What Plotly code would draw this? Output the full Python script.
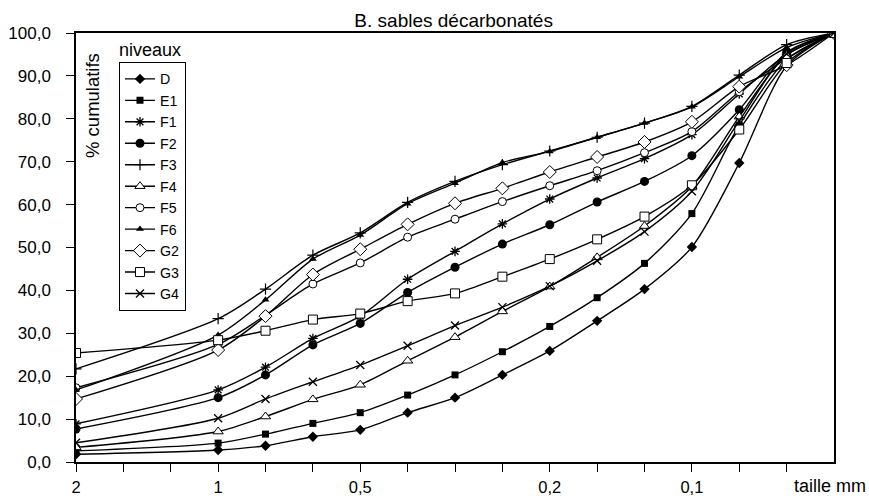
import plotly.graph_objects as go

# Sieve series (category positions along the x axis)
sieves = [2, 1.6, 1.25, 1, 0.8, 0.63, 0.5, 0.4, 0.315, 0.25, 0.2, 0.16, 0.125, 0.1, 0.08, 0.063, 0.05]
measured = [2, 1, 0.8, 0.63, 0.5, 0.4, 0.315, 0.25, 0.2, 0.16, 0.125, 0.1, 0.08, 0.063, 0.05]
tick_labels = {2: "2", 1: "1", 0.5: "0,5", 0.2: "0,2", 0.1: "0,1"}

D  = [1.8, 2.8, 3.8, 5.9, 7.5, 11.5, 15.0, 20.3, 25.9, 32.9, 40.3, 50.1, 69.7, 92.3, 100]
E1 = [2.6, 4.4, 6.5, 9.0, 11.5, 15.6, 20.3, 25.7, 31.6, 38.3, 46.3, 57.9, 78.5, 93.8, 100]
F1 = [8.9, 16.8, 22.1, 28.8, 34.0, 42.6, 49.1, 55.5, 61.3, 66.2, 70.7, 76.3, 85.8, 95.0, 100]
F2 = [7.7, 15.0, 20.3, 27.3, 32.3, 39.5, 45.4, 50.8, 55.3, 60.6, 65.4, 71.4, 82.1, 95.5, 100]
F3 = [21.7, 33.4, 40.3, 48.2, 53.4, 60.5, 65.4, 69.3, 72.5, 75.7, 79.0, 82.9, 90.2, 97.3, 100]
F4 = [3.4, 7.1, 10.6, 14.6, 18.0, 23.6, 29.1, 35.1, 40.9, 47.7, 55.0, 64.2, 80.5, 94.8, 100]
F5 = [17.3, 27.4, 34.2, 41.5, 46.4, 52.4, 56.6, 60.7, 64.4, 67.9, 72.1, 77.0, 86.3, 94.0, 100]
F6 = [16.8, 29.6, 37.8, 47.3, 52.9, 60.2, 65.0, 69.8, 72.4, 75.7, 79.0, 82.8, 89.8, 96.6, 100]
G2 = [14.7, 26.1, 34.0, 43.7, 49.6, 55.4, 60.3, 63.8, 67.6, 71.1, 74.6, 79.3, 87.5, 92.5, 100]
G3 = [25.4, 28.4, 30.6, 33.2, 34.6, 37.5, 39.3, 43.2, 47.3, 51.9, 57.2, 64.5, 77.5, 93.0, 100]
G4 = [4.5, 10.2, 14.7, 18.7, 22.6, 27.1, 31.8, 36.1, 41.0, 46.9, 53.7, 63.1, 79.5, 95.2, 100]

series = [
    ("D", D, dict(symbol="diamond", size=8, color="black")),
    ("E1", E1, dict(symbol="square", size=7, color="black")),
    ("F1", F1, dict(symbol="asterisk-open", size=8, color="black", line=dict(color="black", width=1.3))),
    ("F2", F2, dict(symbol="circle", size=9, color="black")),
    ("F3", F3, dict(symbol="cross-thin-open", size=8, color="black", line=dict(color="black", width=1.2))),
    ("F4", F4, dict(symbol="triangle-up", size=9, color="white", line=dict(color="black", width=1))),
    ("F5", F5, dict(symbol="circle", size=8, color="white", line=dict(color="black", width=1))),
    ("F6", F6, dict(symbol="triangle-up", size=7, color="black")),
    ("G2", G2, dict(symbol="diamond", size=10, color="white", line=dict(color="black", width=1))),
    ("G3", G3, dict(symbol="square", size=9, color="white", line=dict(color="black", width=1))),
    ("G4", G4, dict(symbol="x-thin-open", size=8, color="black", line=dict(color="black", width=1.3))),
]

x = [sieves.index(s) for s in measured]

fig = go.Figure()
for name, vals, mk in series:
    fig.add_trace(go.Scatter(
        x=x, y=vals, name=name, mode="lines+markers",
        line=dict(color="black", width=1.4, shape="spline", smoothing=0.8),
        marker=mk,
    ))

font_family = "Liberation Sans, Arial, sans-serif"
tickvals = list(range(len(sieves) - 1))
ticktext = [tick_labels.get(s, "") for s in sieves[:-1]]

fig.update_layout(
    width=869, height=498,
    margin=dict(l=76, r=35, t=33, b=36, autoexpand=False),
    paper_bgcolor="white", plot_bgcolor="white",
    font=dict(family=font_family, size=17, color="black"),
    separators=", ",
    showlegend=True,
    legend=dict(
        x=0.0567, y=0.932, xanchor="left", yanchor="top",
        bordercolor="black", borderwidth=1, bgcolor="white",
        font=dict(size=14.2), tracegroupgap=0, itemwidth=30,
    ),
    title=dict(text="B. sables décarbonatés", x=0.522, xanchor="center",
               y=1 - 20 / 498, yanchor="middle", yref="container",
               font=dict(size=19)),
)

fig.update_xaxes(
    range=[0, len(sieves) - 1], tickmode="array", tickvals=tickvals, ticktext=ticktext,
    ticks="outside", ticklen=8, tickwidth=1.3, tickcolor="black",
    showline=True, linecolor="black", linewidth=1.5, mirror=True,
    showgrid=False, zeroline=False, ticklabelstandoff=1, automargin=False,
    tickfont=dict(size=16.5),
)
fig.update_yaxes(
    range=[0, 100], dtick=10, tick0=0, tickformat=".1f",
    ticks="outside", ticklen=8, tickwidth=1.3, tickcolor="black",
    showline=True, linecolor="black", linewidth=1.5, mirror=True,
    showgrid=False, zeroline=False, ticklabelstandoff=12, automargin=False,
)

fig.add_annotation(text="taille mm", xref="x", yref="paper", x=len(sieves) - 1, y=0,
                   yshift=-24, xshift=-4, showarrow=False, font=dict(size=18), xanchor="center", yanchor="middle")
fig.add_annotation(text="niveaux", xref="paper", yref="paper", x=(117 - 76) / 758, y=(462 - 50) / 429,
                   showarrow=False, font=dict(size=18), xanchor="left", yanchor="middle")
fig.add_annotation(text="% cumulatifs", xref="paper", yref="paper", x=(92 - 76) / 758, y=(462 - 106) / 429,
                   showarrow=False, font=dict(size=18.5), textangle=-90, xanchor="center", yanchor="middle")

fig.write_html("out.html")
